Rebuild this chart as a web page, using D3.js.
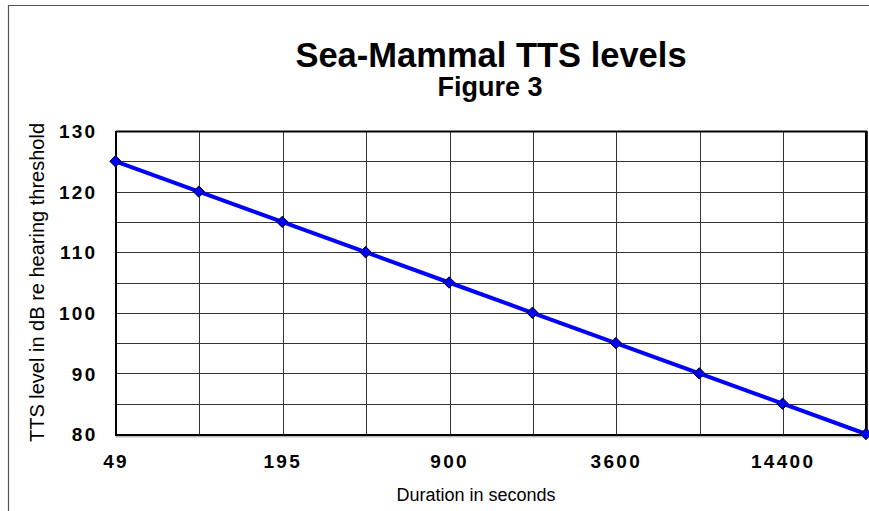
<!DOCTYPE html>
<html>
<head>
<meta charset="utf-8">
<script src="https://cdn.jsdelivr.net/npm/d3@7"></script>
<style>
  body { margin: 0; background: #fff; }
  svg { display: block; font-family: "Liberation Sans", Arial, sans-serif; }
  .grid line { stroke: #333; stroke-width: 1; shape-rendering: crispEdges; }
  .tick-label { font-weight: bold; font-size: 19px; letter-spacing: 2.3px; fill: #000; }
</style>
</head>
<body>
<svg id="chart"></svg>
<script>
// chart data
const durationLabels = ["49", "", "195", "", "900", "", "3600", "", "14400", ""];
const ttsLevels = [125, 120, 115, 110, 105, 100, 95, 90, 85, 80];
const yTicks = [80, 90, 100, 110, 120, 130];

function drawChart() {
    const W = 869, H = 511;
    const margin = { top: 131, right: 3, bottom: 77, left: 115.5 };
    const width = W - margin.left - margin.right;
    const height = H - margin.top - margin.bottom;

    const svg = d3.select("#chart").attr("width", W).attr("height", H);

    // outer frame (only top + left visible in the source)
    svg.append("path")
        .attr("d", `M8.5,${H} V5.5 H${W}`)
        .attr("fill", "none")
        .attr("stroke", "#555")
        .attr("stroke-width", 1.2);

    // titles
    svg.append("text")
        .attr("x", 491).attr("y", 67)
        .attr("text-anchor", "middle")
        .style("font-weight", "bold").style("font-size", "34.5px")
        .text("Sea-Mammal TTS levels");

    svg.append("text")
        .attr("x", 490).attr("y", 96)
        .attr("text-anchor", "middle")
        .style("font-weight", "bold").style("font-size", "27px")
        .text("Figure 3");

    const g = svg.append("g")
        .attr("transform", `translate(${margin.left},${margin.top})`);

    // scales
    const xScale = d3.scalePoint()
        .domain(d3.range(durationLabels.length))
        .range([0, width]);

    const yScale = d3.scaleLinear()
        .domain([80, 130])
        .range([height, 0]);

    // grid
    const grid = g.append("g").attr("class", "grid");
    grid.selectAll(".h")
        .data(d3.range(80, 131, 5))
        .join("line")
        .attr("x1", 0).attr("x2", width)
        .attr("y1", d => Math.round(yScale(d)) + 0.5)
        .attr("y2", d => Math.round(yScale(d)) + 0.5);
    grid.selectAll(".v")
        .data(xScale.domain())
        .join("line")
        .attr("x1", d => Math.round(xScale(d)) + 0.5)
        .attr("x2", d => Math.round(xScale(d)) + 0.5)
        .attr("y1", 0).attr("y2", height);

    // plot border: heavier left / bottom with a grey shadow under the x axis
    g.append("line")
        .attr("x1", 0).attr("x2", width)
        .attr("y1", height + 2.5).attr("y2", height + 2.5)
        .attr("stroke", "#bbb").attr("stroke-width", 2);
    g.append("path")
        .attr("d", `M0.5,0.5 H${width} V${height} M0.5,0 V${height + 1} H${width}`)
        .attr("fill", "none")
        .attr("stroke", "#000")
        .attr("stroke-width", 2);

    // axes (labels only)
    const xAxis = g.append("g")
        .attr("transform", `translate(0,${height})`)
        .call(d3.axisBottom(xScale).tickSize(0).tickPadding(0)
            .tickFormat(i => durationLabels[i]));
    xAxis.select(".domain").remove();
    xAxis.selectAll("text")
        .attr("class", "tick-label")
        .attr("dy", null)
        .attr("y", 34);

    const yAxis = g.append("g")
        .call(d3.axisLeft(yScale).tickValues(yTicks).tickSize(0).tickPadding(18));
    yAxis.select(".domain").remove();
    yAxis.selectAll("text")
        .attr("class", "tick-label")
        .attr("dy", "0.35em");

    // axis titles
    svg.append("text")
        .attr("transform", `translate(44,${margin.top + height / 2}) rotate(-90)`)
        .attr("text-anchor", "middle")
        .style("font-size", "20px")
        .text("TTS level in dB re hearing threshold");

    svg.append("text")
        .attr("x", 476).attr("y", 501)
        .attr("text-anchor", "middle")
        .style("font-size", "18px")
        .text("Duration in seconds");

    // line + diamond markers
    const line = d3.line()
        .x((d, i) => xScale(i))
        .y(d => yScale(d));

    g.append("path")
        .datum(ttsLevels)
        .attr("d", line)
        .attr("fill", "none")
        .attr("stroke", "#0000ff")
        .attr("stroke-width", 4);

    g.selectAll(".marker")
        .data(ttsLevels)
        .join("path")
        .attr("class", "marker")
        .attr("transform", (d, i) => `translate(${xScale(i)},${yScale(d)})`)
        .attr("d", "M0,-5.7 L5.7,0 L0,5.7 L-5.7,0 Z")
        .attr("fill", "#0000ff")
        .attr("stroke", "#000")
        .attr("stroke-width", 1);
}

drawChart();
</script>
</body>
</html>
